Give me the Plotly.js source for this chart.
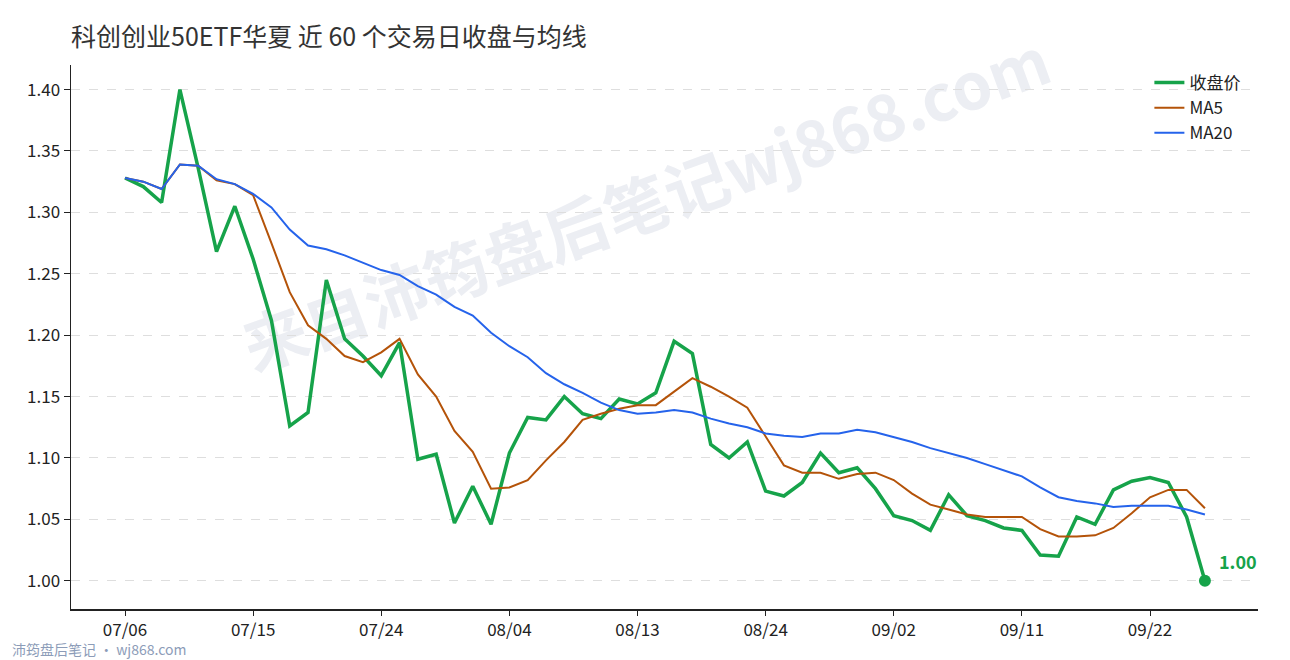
<!DOCTYPE html>
<html>
<head>
<meta charset="utf-8">
<script src="https://cdn.plot.ly/plotly-3.0.1.min.js"></script>
<style>
  body { margin: 0; background: #fff; }
  #wrap { position: relative; width: 1290px; height: 660px; overflow: hidden; }
  #shuiyin {
    position: absolute; left: 645px; top: 200px; z-index: 0;
    transform: translate(-50%, -50%) rotate(-20deg);
    font-family: "Noto Sans CJK SC", "Noto Sans", sans-serif;
    font-weight: bold; font-size: 64px; color: #eceef3;
    white-space: nowrap; user-select: none;
  }
  #grafico { position: absolute; left: 0; top: 0; z-index: 1; width: 1290px; height: 660px; }
</style>
</head>
<body>
<div id="wrap">
  <div id="shuiyin">来自沛筠盘后笔记wj868.com</div>
  <div id="grafico"></div>
</div>
<script>
// datas dos 60 pregões (eixo categórico)
var datas = [
  "07/06","07/07","07/08","07/09","07/10","07/13","07/14","07/15","07/16","07/17",
  "07/20","07/21","07/22","07/23","07/24","07/27","07/28","07/29","07/30","07/31",
  "08/03","08/04","08/05","08/06","08/07","08/10","08/11","08/12","08/13","08/14",
  "08/17","08/18","08/19","08/20","08/21","08/24","08/25","08/26","08/27","08/28",
  "08/31","09/01","09/02","09/03","09/04","09/07","09/08","09/09","09/10","09/11",
  "09/14","09/15","09/16","09/17","09/18","09/21","09/22","09/23","09/24","09/25"
];
var rotulosX = ["07/06","07/15","07/24","08/04","08/13","08/24","09/02","09/11","09/22"];
var ticksY = [1.00, 1.05, 1.10, 1.15, 1.20, 1.25, 1.30, 1.35, 1.40];

var fechamento = [
  1.328, 1.321, 1.308, 1.400, 1.336, 1.268, 1.305, 1.262, 1.212, 1.126,
  1.137, 1.245, 1.197, 1.183, 1.167, 1.194, 1.099, 1.103, 1.047, 1.077,
  1.046, 1.104, 1.133, 1.131, 1.150, 1.136, 1.132, 1.148, 1.144, 1.153,
  1.195, 1.185, 1.111, 1.100, 1.113, 1.073, 1.069, 1.080, 1.104, 1.088,
  1.092, 1.075, 1.053, 1.049, 1.041, 1.070, 1.053, 1.049, 1.043, 1.041,
  1.021, 1.020, 1.052, 1.046, 1.074, 1.081, 1.084, 1.080, 1.052, 1.000
];
var ma5 = [
  1.328, 1.325, 1.319, 1.339, 1.338, 1.326, 1.323, 1.314, 1.275, 1.235,
  1.208, 1.197, 1.183, 1.178, 1.186, 1.197, 1.168, 1.150, 1.122, 1.105,
  1.075, 1.076, 1.082, 1.098, 1.113, 1.131, 1.136, 1.140, 1.143, 1.143,
  1.154, 1.165, 1.158, 1.150, 1.141, 1.118, 1.094, 1.088, 1.088, 1.083,
  1.087, 1.088, 1.082, 1.071, 1.062, 1.058, 1.054, 1.052, 1.052, 1.052,
  1.042, 1.036, 1.036, 1.037, 1.043, 1.055, 1.068, 1.074, 1.074, 1.059
];
var ma20 = [
  1.328, 1.325, 1.319, 1.339, 1.338, 1.327, 1.323, 1.315, 1.304, 1.286,
  1.273, 1.270, 1.265, 1.259, 1.253, 1.249, 1.240, 1.233, 1.223, 1.216,
  1.202, 1.191, 1.182, 1.169, 1.160, 1.153, 1.145, 1.139, 1.136, 1.137,
  1.139, 1.137, 1.132, 1.128, 1.125, 1.120, 1.118, 1.117, 1.120, 1.120,
  1.123, 1.121, 1.117, 1.113, 1.108, 1.104, 1.100, 1.095, 1.090, 1.085,
  1.076, 1.068, 1.065, 1.063, 1.060, 1.061, 1.061, 1.061, 1.058, 1.054
];

var verde = "#16a34a", laranja = "#b45309", azul = "#2563eb";
var fonte = '"Noto Sans CJK SC", "Noto Sans", sans-serif';
var ultimo = datas.length - 1;

var data = [{
  type: 'scatter', mode: 'lines', name: '收盘价',
  x: datas, y: fechamento,
  line: {color: verde, width: 3.5}
},{
  type: 'scatter', mode: 'lines', name: 'MA5',
  x: datas, y: ma5,
  line: {color: laranja, width: 2}
},{
  type: 'scatter', mode: 'lines', name: 'MA20',
  x: datas, y: ma20,
  line: {color: azul, width: 2}
},{
  type: 'scatter', mode: 'markers', showlegend: false,
  x: [datas[ultimo]], y: [fechamento[ultimo]],
  marker: {color: verde, size: 12}
}];

var layout = {
  width: 1290, height: 660,
  margin: {l: 71, r: 32, t: 65, b: 51},
  paper_bgcolor: 'rgba(0,0,0,0)', plot_bgcolor: 'rgba(0,0,0,0)',
  font: {family: fonte, size: 16, color: '#222'},
  title: {
    text: '科创创业50ETF华夏 近 60 个交易日收盘与均线',
    font: {family: fonte, size: 25, color: '#333'},
    xref: 'paper', x: 0, xanchor: 'left',
    yref: 'container', y: 0.944, yanchor: 'middle'
  },
  xaxis: {
    type: 'category', range: [-2.95, 61.9],
    tickmode: 'array', tickvals: rotulosX, ticktext: rotulosX,
    showgrid: false, zeroline: false,
    showline: true, linecolor: '#222', linewidth: 1.5,
    ticks: 'outside', ticklen: 5, tickcolor: '#222',
    tickfont: {size: 17, color: '#222'}, fixedrange: true
  },
  yaxis: {
    range: [0.977, 1.420],
    tickmode: 'array', tickvals: ticksY, tickformat: '.2f',
    showgrid: true, gridcolor: '#dedede', griddash: 'dash', gridwidth: 1,
    zeroline: false,
    showline: true, linecolor: '#222', linewidth: 1.5,
    ticks: 'outside', ticklen: 6, tickcolor: '#222',
    tickfont: {size: 17, color: '#222'}, fixedrange: true
  },
  legend: {
    x: 0.9085, xanchor: 'left', y: 1.0, yanchor: 'top',
    bgcolor: 'rgba(0,0,0,0)', font: {size: 17, color: '#222'},
    tracegroupgap: 0
  },
  annotations: [{
    x: datas[ultimo], y: fechamento[ultimo], xref: 'x', yref: 'y',
    text: '<b>' + fechamento[ultimo].toFixed(2) + '</b>',
    showarrow: false, xanchor: 'left', yanchor: 'middle',
    xshift: 12, yshift: 20,
    font: {family: fonte, size: 18, color: verde}
  },{
    xref: 'paper', yref: 'paper', x: -0.0514, y: -0.0735,
    xanchor: 'left', yanchor: 'middle', showarrow: false,
    text: '沛筠盘后笔记 · wj868.com',
    font: {family: fonte, size: 14, color: '#8c9cb8'}
  }]
};

Plotly.newPlot('grafico', data, layout, {displayModeBar: false, staticPlot: true});
</script>
</body>
</html>
